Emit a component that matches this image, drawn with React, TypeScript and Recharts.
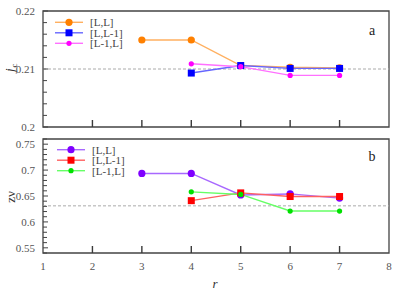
import React from "react";
import {
  LineChart,
  Line,
  XAxis,
  YAxis,
  ReferenceLine,
  ReferenceArea,
} from "recharts";

// r values (x axis)
const rValues = [3, 4, 5, 6, 7];

// panel a: j_c
const jcLL = [0.215, 0.215, 0.2106, 0.2103, 0.2102];
const jcLLm1 = [null, 0.2093, 0.2106, 0.2101, 0.2101];
const jcLm1L = [null, 0.2109, 0.2104, 0.2089, 0.2089];
const jcRef = 0.21;

// panel b: z nu
const zvLL = [0.6935, 0.6935, 0.652, 0.654, 0.646];
const zvLLm1 = [null, 0.641, 0.656, 0.649, 0.649];
const zvLm1L = [null, 0.658, 0.653, 0.621, 0.621];
const zvRef = 0.631;

const xTicks = [1, 2, 3, 4, 5, 6, 7, 8];
const yTicksA = [0.2, 0.202, 0.204, 0.206, 0.208, 0.21, 0.212, 0.214, 0.216, 0.218, 0.22];
const yLabelsA = [
  { v: 0.2, t: "0.2" },
  { v: 0.21, t: "0.21" },
  { v: 0.22, t: "0.22" },
];
const yTicksB = [
  0.54, 0.55, 0.56, 0.57, 0.58, 0.59, 0.6, 0.61, 0.62, 0.63, 0.64, 0.65, 0.66,
  0.67, 0.68, 0.69, 0.7, 0.71, 0.72, 0.73, 0.74, 0.75, 0.76,
];
const yLabelsB = [
  { v: 0.55, t: "0.55" },
  { v: 0.6, t: "0.6" },
  { v: 0.65, t: "0.65" },
  { v: 0.7, t: "0.7" },
  { v: 0.75, t: "0.75" },
];

const seriesNames = ["[L,L]", "[L,L-1]", "[L-1,L]"];

const dataA = rValues.map((r, i) => ({ r, a: jcLL[i], b: jcLLm1[i], c: jcLm1L[i] }));
const dataB = rValues.map((r, i) => ({ r, a: zvLL[i], b: zvLLm1[i], c: zvLm1L[i] }));

const FONT = "'Liberation Serif', 'Times New Roman', serif";
const serif = { fontFamily: FONT };
const AXIS = "#444";

const colorsA = [
  { line: "#ffb060", mark: "#ff8000", shape: "circle" },
  { line: "#6666ff", mark: "#0000ff", shape: "square" },
  { line: "#ff70ff", mark: "#ff00ff", shape: "small" },
];
const colorsB = [
  { line: "#a868ff", mark: "#7f00ff", shape: "circle" },
  { line: "#ff6060", mark: "#ff0000", shape: "square" },
  { line: "#66ff66", mark: "#00e000", shape: "small" },
];

function Marker({ cx, cy, color, shape }: any) {
  if (cx == null || cy == null) return null;
  if (shape === "square")
    return <rect x={cx - 3.5} y={cy - 3.5} width={7} height={7} fill={color} />;
  if (shape === "small") return <circle cx={cx} cy={cy} r={2.6} fill={color} />;
  return <circle cx={cx} cy={cy} r={3.6} fill={color} />;
}

function makeYTick(labels: { v: number; t: string }[]) {
  return (props: any) => {
    const { x, y, payload } = props;
    const lab = labels.find((l) => Math.abs(l.v - payload.value) < 1e-9);
    return (
      <g>
        <path d={`M${x},${y}H${x + (lab ? 5 : 4)}`} stroke={AXIS} strokeWidth={1} fill="none" />
        {lab && (
          <text x={x - 8} y={y + 4} textAnchor="end" style={serif} fontSize={11} fill="#555">
            {lab.t}
          </text>
        )}
      </g>
    );
  };
}

function makeXTick(showLabels: boolean) {
  return (props: any) => {
    const { x, y, payload } = props;
    const v = payload.value;
    return (
      <g>
        {v > 1 && v < 8 && (
          <rect x={x - 0.7} y={y - 7} width={1.4} height={7} fill="#3a3a3a" />
        )}
        {showLabels && (
          <text x={x} y={y + 17} textAnchor="middle" style={serif} fontSize={11} fill="#555">
            {v}
          </text>
        )}
      </g>
    );
  };
}

function Panel({ data, colors, domain, ticks, labels, refY, showX, height, margin }: any) {
  return (
    <LineChart width={415} height={height} data={data} margin={margin}>
      <XAxis
        type="number"
        dataKey="r"
        domain={[1, 8]}
        ticks={xTicks}
        height={1}
        axisLine={false}
        tickLine={false}
        tickSize={0}
        tickMargin={0}
        tick={makeXTick(showX)}
        interval={0}
      />
      <YAxis
        type="number"
        domain={domain}
        ticks={ticks}
        width={43}
        axisLine={false}
        tickLine={false}
        tickSize={0}
        tickMargin={0}
        tick={makeYTick(labels)}
        interval={0}
        allowDataOverflow
      />
      <ReferenceArea
        x1={1}
        x2={8}
        y1={domain[0]}
        y2={domain[1]}
        fill="none"
        stroke={AXIS}
        strokeWidth={1.3}
      />
      <ReferenceLine y={refY} stroke="#aaa" strokeDasharray="3 2" strokeWidth={1} />
      {["a", "b", "c"].map((k, i) => (
        <Line
          key={k}
          dataKey={k}
          stroke={colors[i].line}
          strokeWidth={1.4}
          isAnimationActive={false}
          dot={(p: any) => (
            <Marker key={`${k}-${p.index}`} cx={p.cx} cy={p.cy} color={colors[i].mark} shape={colors[i].shape} />
          )}
          activeDot={false}
        />
      ))}
    </LineChart>
  );
}

function Legend({ colors, top, x0 }: any) {
  return (
    <g>
      {seriesNames.map((n, i) => {
        const y = top + i * 10.5;
        return (
          <g key={n}>
            <line x1={x0} x2={x0 + 28} y1={y} y2={y} stroke={colors[i].line} strokeWidth={1.4} />
            <Marker cx={x0 + 14} cy={y} color={colors[i].mark} shape={colors[i].shape} />
            <text x={x0 + 35} y={y + 4} style={serif} fontSize={11} fill="#444">
              {n}
            </text>
          </g>
        );
      })}
    </g>
  );
}

export default function App() {
  return (
    <div style={{ position: "absolute", left: 0, top: 0, width: 415, height: 300, background: "#fff" }}>
      <div style={{ position: "absolute", left: 0, top: 0 }}>
        <Panel
          data={dataA}
          colors={colorsA}
          domain={[0.2, 0.22]}
          ticks={yTicksA}
          labels={yLabelsA}
          refY={jcRef}
          showX={false}
          height={133}
          margin={{ top: 11, right: 26, bottom: 5, left: 0 }}
        />
      </div>
      <div style={{ position: "absolute", left: 0, top: 133 }}>
        <Panel
          data={dataB}
          colors={colorsB}
          domain={[0.54, 0.76]}
          ticks={yTicksB}
          labels={yLabelsB}
          refY={zvRef}
          showX={true}
          height={167}
          margin={{ top: 6, right: 26, bottom: 46, left: 0 }}
        />
      </div>
      <svg
        width={415}
        height={300}
        style={{ position: "absolute", left: 0, top: 0, pointerEvents: "none" }}
      >
        <Legend colors={colorsA} top={22.3} x0={55} />
        <Legend colors={colorsB} top={149.7} x0={57} />
        <text x={372} y={35} textAnchor="middle" style={serif} fontSize={14} fill="#222">
          a
        </text>
        <text x={372} y={161} textAnchor="middle" style={serif} fontSize={14} fill="#222">
          b
        </text>
        <text transform="translate(14,72) rotate(-90)" style={serif} fontSize={13} fill="#333">
          <tspan fontStyle="italic">j</tspan>
          <tspan fontSize={9} dy={3} dx={1}>c</tspan>
        </text>
        <text
          transform="translate(15,197) rotate(-90)"
          textAnchor="middle"
          style={serif}
          fontSize={13}
          fill="#333"
        >
          zν
        </text>
        <text x={215} y={288} textAnchor="middle" style={serif} fontSize={13} fontStyle="italic" fill="#333">
          r
        </text>
      </svg>
    </div>
  );
}
